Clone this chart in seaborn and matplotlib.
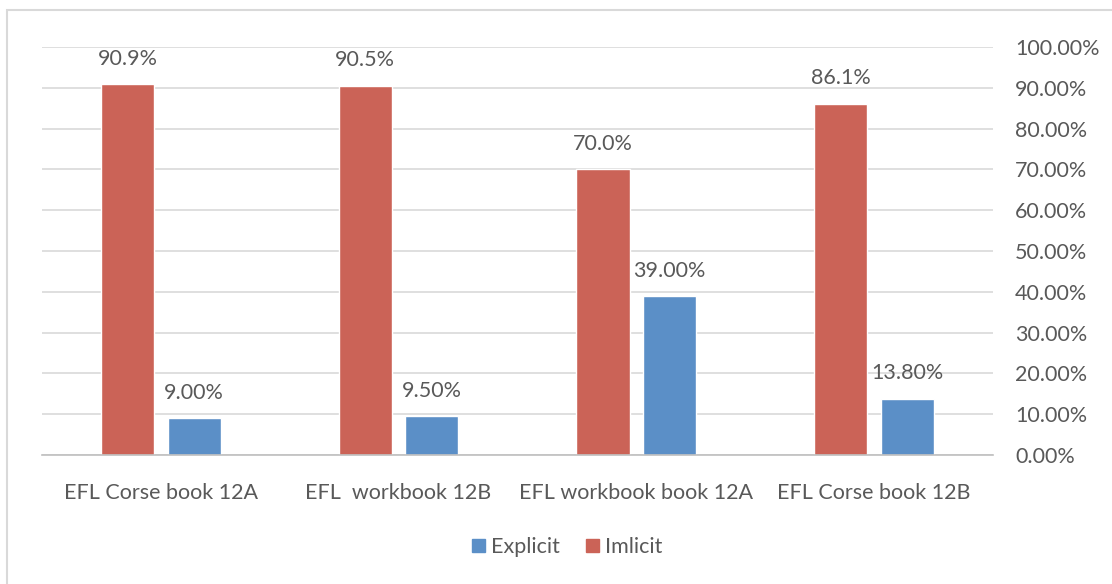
import pandas as pd
import seaborn as sns
import matplotlib.pyplot as plt
from matplotlib.patches import Rectangle, Patch

# data
books = ["EFL Corse book 12A", "EFL  workbook 12B", "EFL workbook book 12A", "EFL Corse book 12B"]
implicit = [90.9, 90.5, 70.0, 86.1]
explicit = [9.0, 9.5, 39.0, 13.8]
implicit_lbl = ["90.9%", "90.5%", "70.0%", "86.1%"]
explicit_lbl = ["9.00%", "9.50%", "39.00%", "13.80%"]
yticks = [0, 10, 20, 30, 40, 50, 60, 70, 80, 90, 100]

red = "#CB6357"
blue = "#5B8FC7"
txt = "#595959"
fs = 15.5

sns.set_style("white")
plt.rcParams['font.family'] = ['Lato', 'DejaVu Sans']

df = pd.DataFrame({
    "book": books * 2,
    "value": implicit + explicit,
    "type": ["Imlicit"] * 4 + ["Explicit"] * 4,
})

fig = plt.figure(figsize=(11.12, 5.84), dpi=100)
ax = fig.add_axes([0.0378, 0.221, 0.855, 0.6985])

sns.barplot(data=df, x="book", y="value", hue="type", hue_order=["Imlicit", "Explicit"],
            palette=[red, blue], width=0.56, gap=0.2, saturation=1, ax=ax, legend=False)

# value labels
for cont, lbls in zip(ax.containers, [implicit_lbl, explicit_lbl]):
    ax.bar_label(cont, labels=lbls, padding=11, fontsize=fs, color=txt)

ax.set_ylim(0, 100)
ax.set_xlim(-0.5, 3.5)
ax.set_yticks(yticks)
ax.set_yticklabels(["{:.2f}%".format(v) for v in yticks])
ax.yaxis.tick_right()
ax.grid(axis="y", color="#D9D9D9", linewidth=1.2)
ax.set_axisbelow(True)
for s in ["top", "left", "right"]:
    ax.spines[s].set_visible(False)
ax.spines["bottom"].set_color("#BFBFBF")
ax.spines["bottom"].set_linewidth(1.2)
ax.tick_params(axis="y", length=0, pad=16, labelsize=fs, labelcolor=txt)
ax.tick_params(axis="x", length=0, pad=20, labelsize=fs, labelcolor=txt)
ax.set_xlabel("")
ax.set_ylabel("")

handles = [Patch(color=blue), Patch(color=red)]
fig.legend(handles, ["Explicit", "Imlicit"], loc="center", bbox_to_anchor=(0.51, 0.063), ncol=2,
           frameon=False, fontsize=fs, labelcolor=txt, handlelength=0.6, handleheight=0.6,
           handletextpad=0.3, columnspacing=1.2)

# outer chart frame
fig.patches.append(Rectangle((7 / 1112, -0.1), 1.2, 1 - 10 / 584 + 0.1, transform=fig.transFigure,
                             fill=False, edgecolor="#D9D9D9", linewidth=1.5))

fig.savefig("out.png", dpi=100)
